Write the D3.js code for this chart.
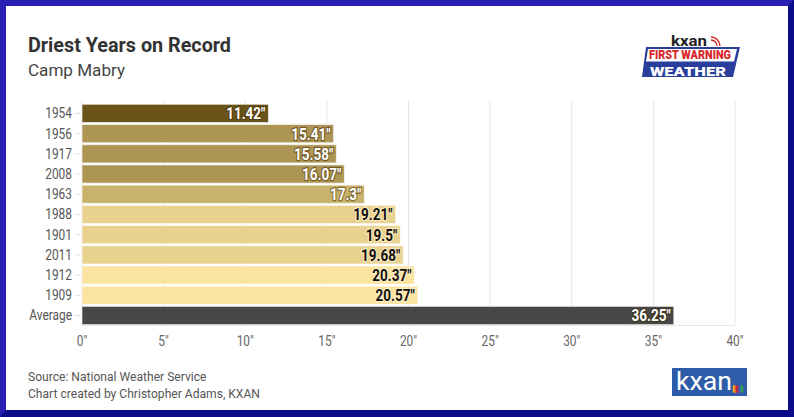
<!DOCTYPE html>
<html>
<head>
<meta charset="utf-8">
<script src="https://cdn.jsdelivr.net/npm/d3@7"></script>
<style>
  html, body { margin: 0; padding: 0; background: #fff; }
  svg { display: block; font-family: Roboto, "Noto Sans", sans-serif; }
</style>
</head>
<body>
<svg id="chart" width="794" height="417"></svg>
<script>
// chart data
const years = ["1954", "1956", "1917", "2008", "1963", "1988", "1901", "2011", "1912", "1909", "Average"];
const rainfall = [11.42, 15.41, 15.58, 16.07, 17.3, 19.21, 19.5, 19.68, 20.37, 20.57, 36.25];
const barColors = ["#6b5419", "#ad9553", "#ad9553", "#ad9553", "#c9b26c", "#e9d28f", "#e9d28f", "#e9d28f", "#fbe3a0", "#fbe3a0", "#474747"];
const darkLabel = [true, true, true, true, true, false, false, false, false, false, true];
const xTicks = [0, 5, 10, 15, 20, 25, 30, 35, 40];

const W = 794, H = 417;
const svg = d3.select('#chart');

// frame with bevelled border
svg.append("rect").attr("width", W).attr("height", H).attr("fill", "#0b0a88");
svg.append("path")
    .attr("d", `M0,0 H${W} L${W - 6},6 H6 V${H - 7} L0,${H} Z`)
    .attr("fill", "#2a1fb3");
svg.append("rect").attr("x", 6).attr("y", 6).attr("width", W - 12).attr("height", H - 13).attr("fill", "#fff");

// titles
svg.append("text").attr("x", 28).attr("y", 52)
    .attr("font-size", 20).attr("font-weight", 700).attr("fill", "#333")
    .attr("textLength", 203).attr("lengthAdjust", "spacingAndGlyphs")
    .text("Driest Years on Record");
svg.append("text").attr("x", 28).attr("y", 76)
    .attr("font-size", 17).attr("fill", "#444")
    .attr("textLength", 97).attr("lengthAdjust", "spacingAndGlyphs")
    .text("Camp Mabry");

const x = d3.scaleLinear().domain([0, 40]).range([82, 735]);
const y = d3.scaleBand().domain(years).range([103.3, 325.6]).paddingInner(0.1).paddingOuter(0.05);

// squeeze text horizontally around its anchor, to mimic a condensed face
const squeeze = (ax, k) => `translate(${ax},0) scale(${k},1) translate(${-ax},0)`;

// gridlines
svg.append("g").selectAll("line").data(xTicks).join("line")
    .attr("x1", d => x(d)).attr("x2", d => x(d))
    .attr("y1", 101).attr("y2", 325)
    .attr("stroke", "#e6e6e6").attr("stroke-width", 1);
svg.append("line").attr("x1", x(0)).attr("x2", x(40)).attr("y1", 325.5).attr("y2", 325.5)
    .attr("stroke", "#e6e6e6");

// x axis labels
svg.append("g").selectAll("text").data(xTicks).join("text")
    .attr("x", d => x(d)).attr("y", 346)
    .attr("text-anchor", "middle").attr("font-size", 14).attr("fill", "#666")
    .attr("transform", d => squeeze(x(d), 0.85))
    .text(d => d + '"');

// y axis labels + small ticks
const yl = svg.append("g");
yl.selectAll("line").data(years).join("line")
    .attr("x1", 75).attr("x2", 81)
    .attr("y1", d => y(d) + y.bandwidth() / 2).attr("y2", d => y(d) + y.bandwidth() / 2)
    .attr("stroke", "#e0e0e0");
yl.selectAll("text").data(years).join("text")
    .attr("x", 72).attr("y", d => y(d) + y.bandwidth() / 2 + 5)
    .attr("text-anchor", "end").attr("font-size", 14).attr("fill", "#555")
    .attr("transform", squeeze(72, 0.85))
    .text(d => d);

// bars
const rows = years.map((yr, i) => ({ yr, v: rainfall[i], c: barColors[i], dark: darkLabel[i] }));
svg.append("g").selectAll("rect").data(rows).join("rect")
    .attr("x", x(0)).attr("y", d => y(d.yr))
    .attr("width", d => x(d.v) - x(0)).attr("height", y.bandwidth())
    .attr("fill", d => d.c)
    .attr("stroke", "rgba(255,255,255,0.6)").attr("stroke-width", 1);

// value labels
const lab = svg.append("g").attr("font-size", 16.5).attr("font-weight", 700);
lab.selectAll("text.halo").data(rows).join("text")
    .attr("class", "halo")
    .attr("x", d => x(d.v) - 3).attr("y", d => y(d.yr) + y.bandwidth() / 2 + 6)
    .attr("text-anchor", "end")
    .attr("fill", "none")
    .attr("stroke", d => d.dark ? "rgba(60,40,0,0.5)" : "rgba(255,240,200,0.8)")
    .attr("stroke-width", 2.5).attr("stroke-linejoin", "round")
    .attr("transform", d => squeeze(x(d.v) - 3, 0.82))
    .text(d => d.v + '"');
lab.selectAll("text.val").data(rows).join("text")
    .attr("class", "val")
    .attr("x", d => x(d.v) - 3).attr("y", d => y(d.yr) + y.bandwidth() / 2 + 6)
    .attr("text-anchor", "end")
    .attr("fill", d => d.dark ? "#fff" : "#111")
    .attr("transform", d => squeeze(x(d.v) - 3, 0.82))
    .text(d => d.v + '"');

// footer
svg.append("text").attr("x", 28).attr("y", 381).attr("font-size", 13).attr("fill", "#555")
    .attr("transform", squeeze(28, 0.93))
    .text("Source: National Weather Service");
svg.append("text").attr("x", 28).attr("y", 398).attr("font-size", 13).attr("fill", "#555")
    .attr("transform", squeeze(28, 0.93))
    .text("Chart created by Christopher Adams, KXAN");

// bottom kxan logo
const bl = svg.append("g");
bl.append("rect").attr("x", 672).attr("y", 368).attr("width", 75).attr("height", 28).attr("fill", "#2f5ca8");
bl.append("text").attr("x", 676).attr("y", 390).attr("font-size", 26).attr("font-weight", 400)
    .attr("fill", "#fff").attr("textLength", 56).attr("lengthAdjust", "spacingAndGlyphs").text("kxan");
const peacock = ["#f0b41e", "#e8622a", "#c8242c", "#7b3f98", "#2a6fb6", "#3aa14a"];
bl.selectAll("ellipse").data(peacock).join("ellipse")
    .attr("cx", (d, i) => 734 + i * 1.6).attr("cy", 389).attr("rx", 1.3).attr("ry", 4)
    .attr("fill", d => d);

// top "First Warning Weather" logo
const tl = svg.append("g");
tl.append("text").attr("x", 671).attr("y", 46).attr("font-size", 14).attr("font-weight", 700)
    .attr("fill", "#222").attr("textLength", 36).attr("lengthAdjust", "spacingAndGlyphs").text("kxan");
tl.append("path").attr("d", "M711,40 a6,6 0 0 1 6,6 M711,37 a9,9 0 0 1 9,9")
    .attr("fill", "none").attr("stroke", "#d9262c").attr("stroke-width", 1.4);
tl.append("path").attr("d", "M646,47 H740 L733,77 H642 Z").attr("fill", "#2a3f9c");
tl.append("path").attr("d", "M648,49 H737 L734,61.5 H646 Z").attr("fill", "#fff");
tl.append("text").attr("x", 690).attr("y", 59).attr("text-anchor", "middle")
    .attr("font-size", 12).attr("font-weight", 900).attr("fill", "#d9262c")
    .attr("textLength", 82).attr("lengthAdjust", "spacingAndGlyphs").text("FIRST WARNING");
tl.append("text").attr("x", 688).attr("y", 75.5).attr("text-anchor", "middle")
    .attr("font-size", 13.5).attr("font-weight", 900).attr("fill", "#fff")
    .attr("textLength", 76).attr("lengthAdjust", "spacingAndGlyphs").text("WEATHER");
</script>
</body>
</html>
